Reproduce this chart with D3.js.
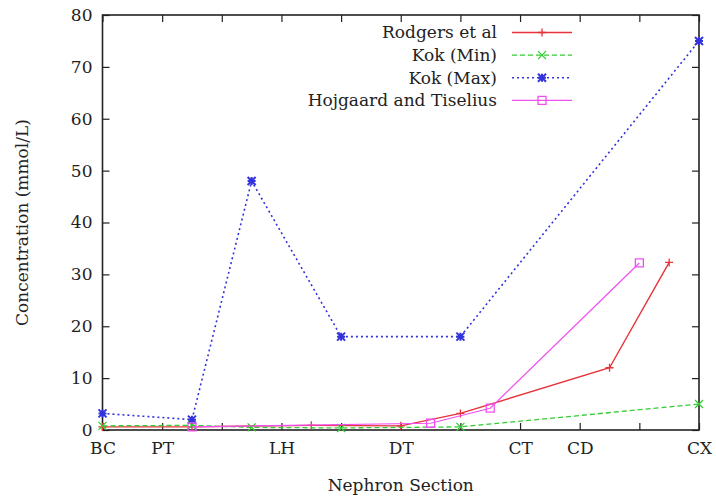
<!DOCTYPE html>
<html>
<head>
<meta charset="utf-8">
<script src="https://cdn.jsdelivr.net/npm/d3@7"></script>
<style>
  body { margin: 0; background: #fff; }
  svg text { font-family: "DejaVu Serif", "Liberation Serif", serif; fill: #222; }
</style>
</head>
<body>
<svg id="chart" width="716" height="501"></svg>
<script>
// Nephron section positions along the x axis
const xTickValues = [0, 1, 2, 3, 4, 5, 6, 7, 8, 9, 10];
const xTickLabels = { 0: "BC", 1: "PT", 3: "LH", 5: "DT", 7: "CT", 8: "CD", 10: "CX" };
const yTickValues = [0, 10, 20, 30, 40, 50, 60, 70, 80];

// Series: x positions and concentrations (mmol/L)
const rodgersX = [0, 1.5, 3.5, 5, 6, 8.5, 9.5];
const rodgersY = [0.6, 0.6, 0.9, 0.8, 3.2, 12, 32.3];
const kokMinX = [0, 1.5, 2.5, 4, 6, 10];
const kokMinY = [0.8, 0.9, 0.5, 0.4, 0.6, 5];
const kokMaxX = [0, 1.5, 2.5, 4, 6, 10];
const kokMaxY = [3.2, 2, 48, 18, 18, 75];
const hojX = [1.5, 5.5, 6.5, 9];
const hojY = [0.6, 1.3, 4.2, 32.2];

const seriesNames = ["Rodgers et al", "Kok (Min)", "Kok (Max)", "Hojgaard and Tiselius"];

const svg = d3.select("#chart");
const m = { left: 102.5, right: 17, top: 15, bottom: 71 };
const W = 716, H = 501;

const x = d3.scaleLinear().domain([0, 10]).range([m.left, W - m.right]);
const y = d3.scaleLinear().domain([0, 80]).range([H - m.bottom, m.top]);

const tickLen = 7;
const fontSize = 17;

// Axes with inward ticks, mirrored on top and right
const xAxisB = d3.axisBottom(x).tickValues(xTickValues).tickSize(-tickLen).tickPadding(12)
  .tickFormat(d => xTickLabels[d] || "");
const xAxisT = d3.axisTop(x).tickValues(xTickValues).tickSize(-tickLen).tickFormat("");
const yAxisL = d3.axisLeft(y).tickValues(yTickValues).tickSize(-tickLen).tickPadding(10);
const yAxisR = d3.axisRight(y).tickValues(yTickValues).tickSize(-tickLen).tickFormat("");

function styleAxis(g) {
  g.select(".domain").remove();
  g.selectAll(".tick line").attr("stroke", "#222").attr("stroke-width", 1.2);
  g.selectAll(".tick text").style("font-size", fontSize + "px").attr("fill", "#222");
}

svg.append("g").attr("transform", `translate(0,${y(0)})`).call(xAxisB).call(styleAxis);
svg.append("g").attr("transform", `translate(0,${y(80)})`).call(xAxisT).call(styleAxis);
svg.append("g").attr("transform", `translate(${x(0)},0)`).call(yAxisL).call(styleAxis);
svg.append("g").attr("transform", `translate(${x(10)},0)`).call(yAxisR).call(styleAxis);

// Plot frame
svg.append("rect")
  .attr("x", x(0)).attr("y", y(80))
  .attr("width", x(10) - x(0)).attr("height", y(0) - y(80))
  .attr("fill", "none").attr("stroke", "#222").attr("stroke-width", 1.6);

// Axis titles
svg.append("text")
  .attr("x", (x(0) + x(10)) / 2).attr("y", 491)
  .attr("text-anchor", "middle").style("font-size", fontSize + "px")
  .text("Nephron Section");
svg.append("text")
  .attr("transform", `translate(28,${(y(0) + y(80)) / 2}) rotate(-90)`)
  .attr("text-anchor", "middle").style("font-size", fontSize + "px")
  .text("Concentration (mmol/L)");

// Marker glyphs (gnuplot-like point types)
const ms = 4;
function markerPath(type) {
  const s = ms;
  switch (type) {
    case "plus": return `M${-s},0H${s}M0,${-s}V${s}`;
    case "cross": return `M${-s},${-s}L${s},${s}M${-s},${s}L${s},${-s}`;
    case "star": return `M${-s},0H${s}M0,${-s}V${s}M${-s},${-s}L${s},${s}M${-s},${s}L${s},${-s}`;
    case "square": return `M${-s},${-s}H${s}V${s}H${-s}Z`;
  }
}

const series = [
  { name: seriesNames[0], xs: rodgersX, ys: rodgersY, color: "#e8323a", dash: null, width: 1.4, marker: "plus" },
  { name: seriesNames[1], xs: kokMinX, ys: kokMinY, color: "#33cc33", dash: "5,3", width: 1.3, marker: "cross" },
  { name: seriesNames[2], xs: kokMaxX, ys: kokMaxY, color: "#3333dd", dash: "2,3", width: 1.6, marker: "star" },
  { name: seriesNames[3], xs: hojX, ys: hojY, color: "#f050f0", dash: null, width: 1.2, marker: "square" }
];

const line = d3.line().x(d => x(d[0])).y(d => y(d[1]));
const plot = svg.append("g");

series.forEach(s => {
  const pts = s.xs.map((v, i) => [v, s.ys[i]]);
  plot.append("path")
    .datum(pts)
    .attr("d", line)
    .attr("fill", "none")
    .attr("stroke", s.color)
    .attr("stroke-width", s.width)
    .attr("stroke-dasharray", s.dash);
  plot.selectAll(null).data(pts).enter().append("path")
    .attr("transform", d => `translate(${x(d[0])},${y(d[1])})`)
    .attr("d", markerPath(s.marker))
    .attr("fill", "none")
    .attr("stroke", s.color)
    .attr("stroke-width", s.marker === "star" ? 2 : 1.3);
});

// Legend
const legend = svg.append("g");
const lgTextX = 497, lgLineX0 = 512, lgLineX1 = 572, lgY0 = 32.5, lgDy = 22.6;
series.forEach((s, i) => {
  const ly = lgY0 + i * lgDy;
  legend.append("text")
    .attr("x", lgTextX).attr("y", ly).attr("dy", "0.35em")
    .attr("text-anchor", "end").style("font-size", fontSize + "px")
    .text(s.name);
  legend.append("line")
    .attr("x1", lgLineX0).attr("x2", lgLineX1).attr("y1", ly).attr("y2", ly)
    .attr("stroke", s.color).attr("stroke-width", s.width)
    .attr("stroke-dasharray", s.dash);
  legend.append("path")
    .attr("transform", `translate(${(lgLineX0 + lgLineX1) / 2},${ly})`)
    .attr("d", markerPath(s.marker))
    .attr("fill", "none").attr("stroke", s.color)
    .attr("stroke-width", s.marker === "star" ? 2 : 1.3);
});
</script>
</body>
</html>
